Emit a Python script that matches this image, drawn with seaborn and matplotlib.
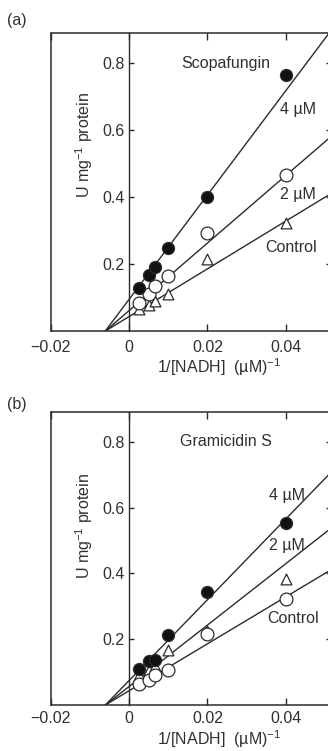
import matplotlib
matplotlib.use("Agg")
import matplotlib.pyplot as plt
import seaborn as sns
import pandas as pd

# ---------------- data ----------------
inv_nadh = [0.0025, 0.005, 0.00667, 0.01, 0.02, 0.04]

# (a) Scopafungin
scopa_4uM = [0.128, 0.166, 0.190, 0.248, 0.400, 0.765]
scopa_2uM = [0.085, 0.110, 0.134, 0.163, 0.293, 0.465]
scopa_ctrl = [0.065, 0.077, 0.090, 0.110, 0.215, 0.322]
scopa_slopes = [15.6, 10.1, 7.14]
scopa_intercepts = [0.094, 0.0606, 0.0428]

# (b) Gramicidin S
grami_4uM = [0.110, 0.135, 0.138, 0.214, 0.345, 0.552]
grami_2uM = [0.090, 0.107, 0.120, 0.167, 0.225, 0.382]
grami_ctrl = [0.065, 0.075, 0.090, 0.106, 0.215, 0.322]
grami_slopes = [12.3, 9.35, 7.15]
grami_intercepts = [0.074, 0.056, 0.043]

x_ticks = [-0.02, 0, 0.02, 0.04]
x_tick_labels = ["\u22120.02", "0", "0.02", "0.04"]
y_ticks = [0.2, 0.4, 0.6, 0.8]
y_tick_labels = ["0.2", "0.4", "0.6", "0.8"]

# ---------------- style ----------------
sns.set_style("ticks")
plt.rcParams["font.family"] = ["Liberation Sans", "DejaVu Sans"]
plt.rcParams["mathtext.default"] = "regular"
INK = "#2b2b2b"
TXT = "#303030"
FS = 11.5

fig = plt.figure(figsize=(3.28, 7.51), dpi=100)
W, H = 328.0, 751.0


def make_panel(rect, ylim_top, title, series, slopes, intercepts, labels,
               xpad, xlabel_y, ylabel_y):
    ax = fig.add_axes(rect)
    # fitted lines
    for m, b in zip(slopes, intercepts):
        ax.axline((0, b), slope=m, color=INK, lw=1.0, zorder=2)
    # points
    for (vals, marker, face, size) in series:
        df = pd.DataFrame({"x": inv_nadh, "y": vals})
        sns.scatterplot(data=df, x="x", y="y", marker=marker, s=size,
                        color=face, edgecolor=INK, linewidth=0.9,
                        ax=ax, zorder=3, legend=False)
    ax.set_xlim(-0.02, 0.0515)
    ax.set_ylim(0, ylim_top)
    # vertical axis at x = 0, frame line at left edge
    ax.spines["left"].set_position(("data", 0))
    ax.plot([0, 0], [0, 1], transform=ax.transAxes, color=INK, lw=1.1,
            clip_on=False, zorder=4)
    for s in ax.spines.values():
        s.set_color(INK)
        s.set_linewidth(1.1)
    ax.spines["left"].set_linewidth(1.0)
    ax.set_xticks(x_ticks)
    ax.set_xticklabels(x_tick_labels)
    ax.set_yticks(y_ticks)
    ax.set_yticklabels(y_tick_labels)
    ax.tick_params(axis="x", direction="in", length=5, width=1.0, color=INK,
                   top=True, labelsize=FS, labelcolor=TXT, pad=xpad)
    ax.tick_params(axis="y", direction="in", length=3.5, width=1.0, color=INK,
                   right=True, labelsize=FS, labelcolor=TXT, pad=3)
    ax.set_xlabel("1/[NADH]  (\u00b5M)$^{-1}$", fontsize=FS, color=TXT)
    ax.xaxis.set_label_coords(0.60, xlabel_y)
    ax.xaxis.label.set_va("center")
    ax.set_ylabel("U mg$^{-1}$ protein", fontsize=FS, color=TXT)
    ax.yaxis.set_label_coords(0.119, ylabel_y)
    ax.yaxis.label.set_va("center")
    ax.text(0.0246, 0.80, title, ha="center", va="center", fontsize=FS,
            color=TXT)
    for (lx, ly, txt) in labels:
        ax.text(lx, ly, txt, ha="left", va="center", fontsize=FS, color=TXT)
    ax.grid(False)
    return ax


ax_a = make_panel(
    [50.5 / W, 1 - 331 / H, 280.5 / W, 298 / H], 0.89, "Scopafungin",
    [(scopa_ctrl, "^", "white", 60), (scopa_2uM, "o", "white", 85),
     (scopa_4uM, "o", "#111111", 75)],
    scopa_slopes, scopa_intercepts,
    [(0.0384, 0.663, "4 \u00b5M"), (0.0384, 0.409, "2 \u00b5M"),
     (0.0348, 0.248, "Control")],
    xpad=6.5, xlabel_y=-0.12, ylabel_y=0.625)

ax_b = make_panel(
    [50.5 / W, 1 - 705 / H, 280.5 / W, 293 / H], 0.891, "Gramicidin S",
    [(grami_2uM, "^", "white", 60), (grami_ctrl, "o", "white", 85),
     (grami_4uM, "o", "#111111", 75)],
    grami_slopes, grami_intercepts,
    [(0.0358, 0.636, "4 \u00b5M"), (0.0356, 0.486, "2 \u00b5M"),
     (0.0352, 0.262, "Control")],
    xpad=4.5, xlabel_y=-0.117, ylabel_y=0.61)

fig.text(7 / W, 1 - 20 / H, "(a)", ha="left", va="center", fontsize=FS,
         color=TXT)
fig.text(7 / W, 1 - 404 / H, "(b)", ha="left", va="center", fontsize=FS,
         color=TXT)

fig.savefig("out.png", dpi=100, facecolor="white")
